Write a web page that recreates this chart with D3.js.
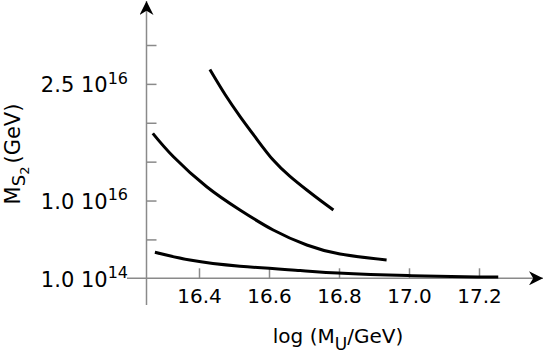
<!DOCTYPE html>
<html>
<head>
<meta charset="utf-8"/>
<title>M_S2 vs log M_U</title>
<script src="https://d3js.org/d3.v7.min.js"></script>
<style>
  body { margin: 0; background: #fff; }
  text { font-family: "DejaVu Sans", "Liberation Sans", Arial, sans-serif; fill: #000; }
</style>
</head>
<body>
<svg width="545" height="357"></svg>
<script>
// curves, y in units of 10^16 GeV
var curveTopX = [16.431, 16.475, 16.518, 16.565, 16.612, 16.660, 16.708, 16.750, 16.784];
var curveTopY = [2.686, 2.360, 2.077, 1.790, 1.520, 1.310, 1.135, 0.990, 0.878];
var curveMidX = [16.268, 16.327, 16.422, 16.517, 16.612, 16.708, 16.803, 16.936];
var curveMidY = [1.864, 1.563, 1.177, 0.878, 0.621, 0.428, 0.312, 0.235];
var curveLowX = [16.274, 16.374, 16.517, 16.689, 16.797, 16.997, 17.197, 17.255];
var curveLowY = [0.334, 0.235, 0.155, 0.100, 0.068, 0.035, 0.018, 0.016];

var xTicks = [16.4, 16.6, 16.8, 17.0, 17.2];
var yTicks = [0.5, 1.0, 1.5, 2.0, 2.5, 3.0];
var yLabelVals = [0, 1.0, 2.5];
var yLabelMant = ["1.0 10", "1.0 10", "2.5 10"];
var yLabelExp = ["14", "16", "16"];

var svg = d3.select("svg");
var gray = "#8a8a8a";

var x = d3.scaleLinear().domain([16.25, 17.25]).range([146.5, 496.5]);
var y = d3.scaleLinear().domain([0, 3]).range([278.3, 45]);

var defs = svg.append("defs");
defs.append("marker")
  .attr("id", "arrow")
  .attr("viewBox", "0 0 10 10")
  .attr("refX", 10).attr("refY", 5)
  .attr("markerWidth", 15).attr("markerHeight", 14)
  .attr("markerUnits", "userSpaceOnUse")
  .attr("orient", "auto")
  .append("path")
  .attr("d", "M0,0 L10,5 L0,10 L3,5 Z")
  .attr("fill", "#000");

// x axis ticks + labels
var xAxis = svg.append("g")
  .attr("transform", "translate(0," + y(0) + ")")
  .call(d3.axisBottom(x).tickValues(xTicks).tickSize(-10).tickPadding(11)
    .tickFormat(d3.format(".1f")));
xAxis.attr("font-family", null);
xAxis.select(".domain").remove();
xAxis.selectAll(".tick line").attr("stroke", gray).attr("stroke-width", 1.5);
xAxis.selectAll(".tick text").attr("font-size", 20);

// y axis ticks
var yAxis = svg.append("g")
  .attr("transform", "translate(" + x(16.25) + ",0)")
  .call(d3.axisLeft(y).tickValues(yTicks).tickSize(-10).tickFormat(""));
yAxis.select(".domain").remove();
yAxis.selectAll(".tick line").attr("stroke", gray).attr("stroke-width", 1.5);

// axis lines with arrows
svg.append("line")
  .attr("x1", 127).attr("x2", 543)
  .attr("y1", y(0)).attr("y2", y(0))
  .attr("stroke", gray).attr("stroke-width", 1.5)
  .attr("marker-end", "url(#arrow)");
svg.append("line")
  .attr("x1", x(16.25)).attr("x2", x(16.25))
  .attr("y1", 305).attr("y2", 1)
  .attr("stroke", gray).attr("stroke-width", 1.5)
  .attr("marker-end", "url(#arrow)");

// y tick labels with exponent
yLabelVals.forEach(function(v, i) {
  var t = svg.append("text")
    .attr("x", 128).attr("y", y(v) + 8.4)
    .attr("text-anchor", "end")
    .attr("font-size", 21);
  t.append("tspan").text(yLabelMant[i]);
  t.append("tspan").attr("dy", -8.7).attr("font-size", 16).text(yLabelExp[i]);
});

// curves
var line = d3.line().curve(d3.curveNatural)
  .x(function(d) { return x(d[0]); })
  .y(function(d) { return y(d[1]); });

[[curveTopX, curveTopY], [curveMidX, curveMidY], [curveLowX, curveLowY]].forEach(function(c) {
  svg.append("path")
    .datum(d3.zip(c[0], c[1]))
    .attr("d", line)
    .attr("fill", "none")
    .attr("stroke", "#000")
    .attr("stroke-width", 3);
});

// axis titles
var xt = svg.append("text")
  .attr("x", 338).attr("y", 343)
  .attr("text-anchor", "middle")
  .attr("font-size", 20);
xt.append("tspan").text("log (M");
xt.append("tspan").attr("dy", 7).attr("font-size", 17).text("U");
xt.append("tspan").attr("dy", -7).text("/GeV)");

var yt = svg.append("text")
  .attr("transform", "translate(20,154) rotate(-90)")
  .attr("text-anchor", "middle")
  .attr("font-size", 21);
yt.append("tspan").text("M");
yt.append("tspan").attr("dy", 5).attr("font-size", 18).text("S");
yt.append("tspan").attr("dy", 4).attr("font-size", 13).text("2");
yt.append("tspan").attr("dy", -9).attr("dx", 3).text("(GeV)");
</script>
</body>
</html>
